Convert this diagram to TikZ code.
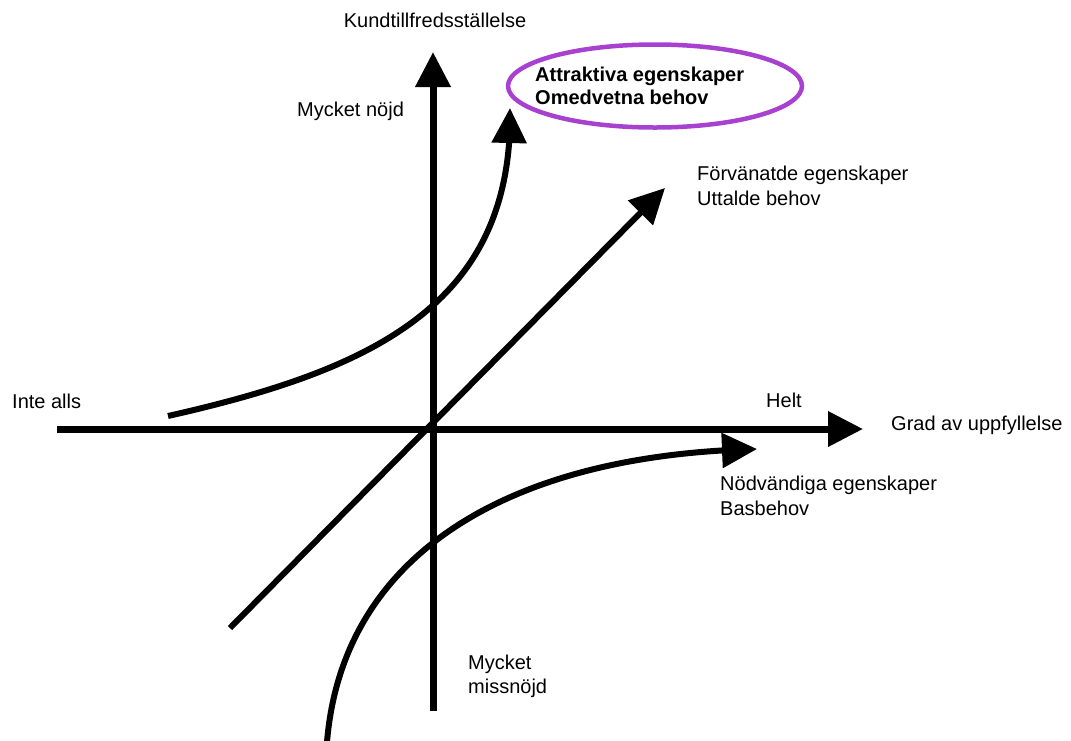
\documentclass[tikz,border=0pt]{standalone}
\usepackage{fontspec}
\setmainfont{Liberation Sans}
\usetikzlibrary{arrows.meta,bending,shapes.geometric}
\definecolor{ellpurple}{RGB}{168,64,208}
\tikzset{
  lbl/.style={anchor=base west,inner sep=0pt,align=left,font=\fontsize{20}{25}\selectfont},
  axis/.style={line width=7pt,-{Triangle[length=35pt,width=34pt]}},
  curve/.style={line width=6pt,-{Triangle[length=35pt,width=34pt,flex]}},
}
\begin{document}
\begin{tikzpicture}[x=1pt,y=-1pt]
\useasboundingbox (0,0) rectangle (1071,740);
% coordinates
\coordinate (xl) at (57,429);
\coordinate (xr) at (863,429);
\coordinate (yb) at (433,711);
\coordinate (yt) at (433,52);
\coordinate (dl) at (230,628);
\coordinate (dr) at (665,188);
\coordinate (as) at (168,416);
\coordinate (ae) at (510,108);
\coordinate (bs) at (327,742);
\coordinate (be) at (757,449);
% axes
\draw[axis] (xl) -- (xr);
\draw[axis] (yb) -- (yt);
\draw[axis,line width=6pt] (dl) -- (dr);
% curves
\draw[curve] (as) .. controls (372,370) and (514,305) .. (ae);
\draw[curve] (bs) .. controls (342,560) and (500,455) .. (be);
% ellipse
\node[draw=ellpurple,line width=4.5pt,ellipse,minimum width=294pt,minimum height=83pt,inner sep=0pt] (ell) at (655,86) {};
\node[lbl,font=\fontsize{20}{23}\selectfont\bfseries] (attr) at (535,104) {Attraktiva egenskaper\\Omedvetna behov};
% labels
\node[lbl,anchor=base] (kund) at (435,27) {Kundtillfredsställelse};
\node[lbl] (nojd) at (297,116) {Mycket nöjd};
\node[lbl] (forv) at (697,205) {Förvänatde egenskaper\\Uttalde behov};
\node[lbl] (helt) at (766,407) {Helt};
\node[lbl] (grad) at (891,430) {Grad av uppfyllelse};
\node[lbl] (inte) at (12,408) {Inte alls};
\node[lbl] (nodv) at (720,515) {Nödvändiga egenskaper\\Basbehov};
\node[lbl,font=\fontsize{20}{24}\selectfont] (miss) at (468,693) {Mycket\\missnöjd};
\end{tikzpicture}
\end{document}
